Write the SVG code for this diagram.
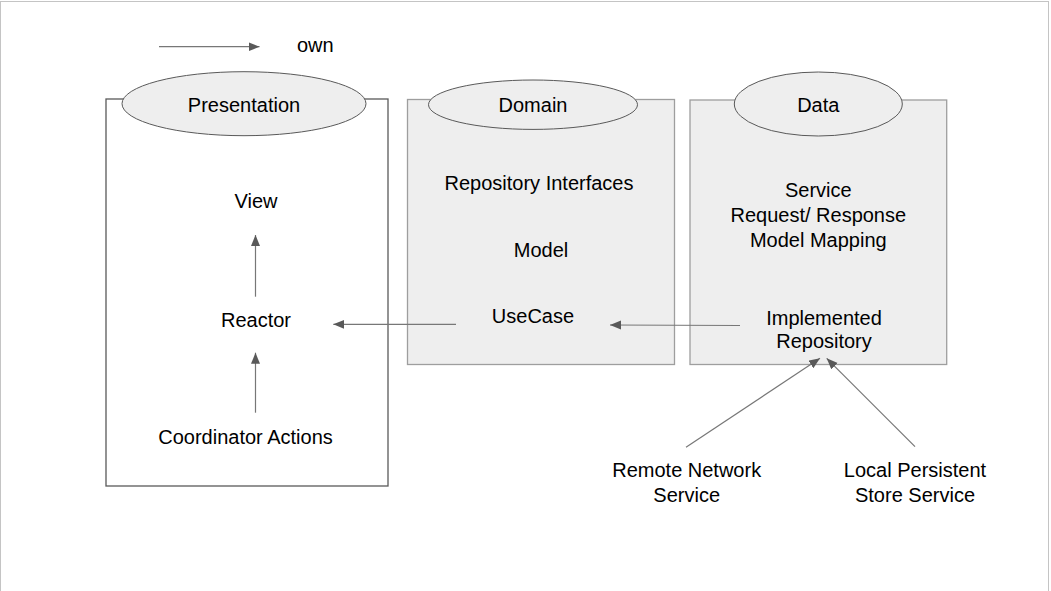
<svg xmlns="http://www.w3.org/2000/svg" width="1051" height="591" viewBox="0 0 1051 591">
<defs>
<marker id="ah" markerUnits="userSpaceOnUse" markerWidth="12" markerHeight="10" refX="11" refY="4.5" orient="auto">
<path d="M0,0 L11,4.5 L0,9 Z" fill="#595959"/>
</marker>
<style>
text{font-family:"Liberation Sans",Arial,sans-serif;font-size:20px;fill:#000;text-anchor:middle}
.box{fill:#eeeeee;stroke:#9e9e9e;stroke-width:1.3}
.pbox{fill:#ffffff;stroke:#595959;stroke-width:1.3}
.ell{fill:#eeeeee;stroke:#595959;stroke-width:1}
.conn line{stroke:#777777;stroke-width:1.2;marker-end:url(#ah)}
</style>
</defs>
<rect x="0" y="0" width="1051" height="591" fill="#ffffff"/>
<rect x="0.5" y="1.5" width="1048" height="640" fill="none" stroke="#c4c4c4" stroke-width="1"/>
<g id="legend">
<text x="297" y="52" style="text-anchor:start">own</text>
</g>
<g id="presentation">
<rect class="pbox" x="106" y="99" width="282" height="387"/>
<ellipse class="ell" cx="244" cy="103.7" rx="122" ry="32"/>
<text x="244" y="111.5">Presentation</text>
</g>
<g id="view"><text x="256" y="208">View</text></g>
<g id="reactor"><text x="256" y="327">Reactor</text></g>
<g id="coordinator"><text x="245.5" y="443.5">Coordinator Actions</text></g>
<g id="domain">
<rect class="box" x="407.5" y="99.5" width="267" height="265"/>
<ellipse class="ell" cx="533" cy="104.7" rx="104.5" ry="24.7"/>
<text x="533" y="111.5">Domain</text>
</g>
<g id="repo-interfaces"><text x="539" y="190">Repository Interfaces</text></g>
<g id="model"><text x="541" y="257">Model</text></g>
<g id="usecase"><text x="533" y="322.5">UseCase</text></g>
<g id="data">
<rect class="box" x="690" y="100" width="256.7" height="264.5"/>
<ellipse class="ell" cx="818.3" cy="104" rx="84" ry="32"/>
<text x="818.3" y="111.5">Data</text>
</g>
<g id="service-mapping">
<text x="818.3" y="196.7">Service</text>
<text x="818.3" y="221.7">Request/ Response</text>
<text x="818.3" y="246.7">Model Mapping</text>
</g>
<g id="implemented-repo">
<text x="824" y="325">Implemented</text>
<text x="824" y="348.3">Repository</text>
</g>
<g id="remote-network">
<text x="686.7" y="476.7">Remote Network</text>
<text x="686.7" y="501.7">Service</text>
</g>
<g id="local-store">
<text x="915" y="476.7">Local Persistent</text>
<text x="915" y="501.7">Store Service</text>
</g>
<g id="connectors" class="conn">
<line x1="159" y1="46.7" x2="259.5" y2="46.7"/>
<line x1="255.5" y1="296.7" x2="255.5" y2="235"/>
<line x1="255.5" y1="412.7" x2="255.5" y2="352.7"/>
<line x1="456" y1="324.3" x2="333.3" y2="324.3"/>
<line x1="740" y1="325.5" x2="610" y2="325"/>
<line x1="686" y1="447.3" x2="820" y2="358.3"/>
<line x1="915" y1="446.7" x2="826.7" y2="358.3"/>
</g>
</svg>
